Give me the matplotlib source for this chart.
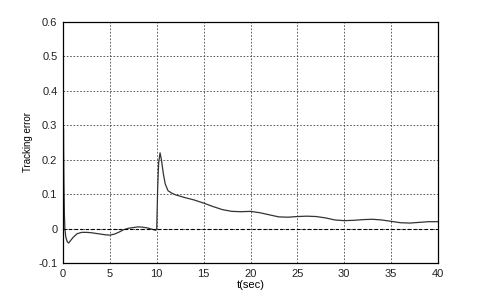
import matplotlib
matplotlib.use("Agg")
import matplotlib.pyplot as plt
import numpy as np

# tracking error
t = [0.0, 0.05, 0.1, 0.15, 0.2, 0.3, 0.45, 0.6, 0.8, 1.1, 1.5, 2.0, 2.5, 3.0, 3.5, 4.0,
     4.5, 5.0, 5.5, 6.0, 6.5, 7.0, 7.5, 8.0, 8.5, 9.0, 9.5, 9.9, 10.0, 10.1, 10.2,
     10.35, 10.5, 10.7, 10.9, 11.2, 11.6, 12.0, 13.0, 14.0, 15.0, 16.0, 17.0, 18.0,
     19.0, 20.0, 21.0, 22.0, 23.0, 24.0, 25.0, 26.0, 27.0, 28.0, 29.0, 30.0, 31.0,
     32.0, 33.0, 34.0, 35.0, 36.0, 37.0, 38.0, 39.0, 40.0]
e = [0.0, 0.29, 0.13, 0.04, 0.0, -0.025, -0.038, -0.042, -0.035, -0.025, -0.015,
     -0.011, -0.011, -0.012, -0.014, -0.016, -0.018, -0.019, -0.016, -0.01, -0.003,
     0.001, 0.003, 0.005, 0.004, 0.002, -0.002, -0.005, 0.0, 0.12, 0.19, 0.22, 0.2,
     0.16, 0.13, 0.11, 0.103, 0.098, 0.09, 0.083, 0.074, 0.064, 0.055, 0.05, 0.049,
     0.05, 0.046, 0.04, 0.034, 0.033, 0.035, 0.036, 0.035, 0.031, 0.025, 0.023, 0.024,
     0.026, 0.027, 0.025, 0.021, 0.017, 0.016, 0.018, 0.02, 0.02]

xticks = np.arange(0, 41, 5)
yticks = np.round(np.arange(-0.1, 0.61, 0.1), 1)

plt.rcParams['font.family'] = ['Liberation Sans', 'DejaVu Sans']
fig = plt.figure(figsize=(4.84, 2.96), dpi=100)
ax = fig.add_axes([63/484, 1 - 263/296, 375/484, 241/296])

ax.plot(t, e, color='#333333', lw=0.9)
ax.axhline(0, color='black', lw=0.8, ls=(0, (3, 2)))

ax.set_xlim(0, 40)
ax.set_ylim(-0.1, 0.6)
ax.set_xticks(xticks)
ax.set_yticks(yticks)
ax.set_yticklabels(['-0.1', '0', '0.1', '0.2', '0.3', '0.4', '0.5', '0.6'])
ax.grid(True, color='#444444', lw=0.6, ls=(0, (2, 2)))
ax.tick_params(labelsize=8, length=0, pad=4, colors='#222222')
for s in ax.spines.values():
    s.set_linewidth(0.9)

ax.set_xlabel('t(sec)', fontsize=8, labelpad=1)
ax.set_ylabel('Tracking error', fontsize=7, labelpad=4)

fig.savefig('out.png', dpi=100)
